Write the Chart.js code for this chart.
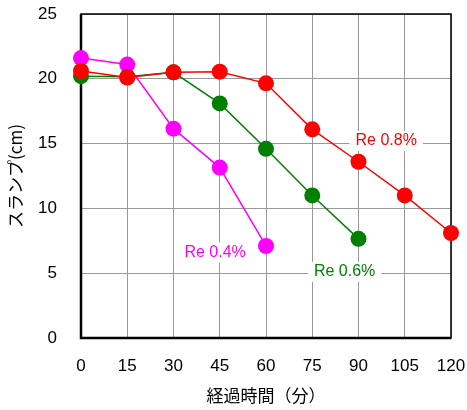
<!DOCTYPE html>
<html>
<head>
<meta charset="utf-8">
<script src="https://cdn.jsdelivr.net/npm/chart.js@4"></script>
<style>
  html, body { margin: 0; padding: 0; background: #fff; }
  #wrap { width: 467px; height: 410px; }
</style>
</head>
<body>
<div id="wrap"><canvas id="c" width="467" height="410"></canvas></div>
<script>
// 経過時間(分)
let minutes = [0, 15, 30, 45, 60, 75, 90, 105, 120];
// スランプ(cm)
let slump04 = [21.6, 21.1, 16.15, 13.15, 7.1];
let slump06 = [20.2, 20.15, 20.5, 18.1, 14.6, 11.0, 7.65];
let slump08 = [20.6, 20.1, 20.5, 20.55, 19.65, 16.1, 13.6, 11.0, 8.1];

let seriesNames = ["Re 0.4%", "Re 0.6%", "Re 0.8%"];
// label anchor (x in minutes, y in cm)
let labelX = [43.5, 85.5, 99];
let labelY = [6.6, 5.1, 15.2];

let colors = ["#ff00ff", "#008000", "#ff0000"];
let font = "'Liberation Sans', 'Noto Sans CJK JP', sans-serif";
let jpFont = "'Noto Sans CJK JP', sans-serif";

function pts(vals) {
  return vals.map((v, i) => ({ x: minutes[i], y: v }));
}

// 枠線
const framePlugin = {
  id: "frame",
  beforeDatasetsDraw(chart) {
    const a = chart.chartArea;
    const ctx = chart.ctx;
    ctx.save();
    ctx.strokeStyle = "#000";
    ctx.lineWidth = 1.5;
    ctx.strokeRect(a.left, a.top, a.right - a.left, a.bottom - a.top);
    ctx.lineWidth = 2.5;
    ctx.beginPath();
    ctx.moveTo(a.left, a.top);
    ctx.lineTo(a.left, a.bottom);
    ctx.lineTo(a.right, a.bottom);
    ctx.stroke();
    ctx.restore();
  }
};

// 系列名ラベル
const labelPlugin = {
  id: "seriesLabels",
  afterDatasetsDraw(chart) {
    const ctx = chart.ctx;
    const xs = chart.scales.x;
    const ys = chart.scales.y;
    ctx.save();
    ctx.font = "16px " + font;
    ctx.textAlign = "center";
    ctx.textBaseline = "middle";
    for (let i = 0; i < seriesNames.length; i++) {
      let px = xs.getPixelForValue(labelX[i]);
      let py = ys.getPixelForValue(labelY[i]);
      let w = ctx.measureText(seriesNames[i]).width + 12;
      ctx.fillStyle = "#fff";
      ctx.fillRect(px - w / 2, py - 10, w, 20);
      ctx.fillStyle = colors[i];
      ctx.fillText(seriesNames[i], px, py);
    }
    ctx.restore();
  }
};

let datasets = [slump08, slump06, slump04].map((vals, k) => {
  let ci = 2 - k;
  return {
    label: seriesNames[ci],
    data: pts(vals),
    borderColor: colors[ci],
    backgroundColor: colors[ci],
    borderWidth: 1.5,
    pointRadius: 8,
    pointHoverRadius: 8,
    pointBorderWidth: 0,
    clip: false,
    tension: 0
  };
});

new Chart(document.getElementById("c"), {
  type: "line",
  data: { datasets: datasets },
  plugins: [framePlugin, labelPlugin],
  options: {
    responsive: false,
    animation: false,
    layout: { padding: { top: 14, right: 16, left: 0, bottom: 0 } },
    plugins: { legend: { display: false }, tooltip: { enabled: false } },
    scales: {
      x: {
        type: "linear",
        min: 0,
        max: 120,
        afterFit(s) {
          s.height = 72;
          s.paddingLeft = 0;
          s.paddingRight = 0;
        },
        ticks: {
          stepSize: 15,
          padding: 18,
          color: "#000",
          font: { family: font, size: 17 }
        },
        grid: { color: "#999", lineWidth: 1, tickLength: 0, drawTicks: false },
        border: { display: false },
        title: {
          display: true,
          text: "経過時間（分）",
          color: "#000",
          font: { family: jpFont, size: 17 },
          padding: { top: 2 }
        }
      },
      y: {
        min: 0,
        max: 25,
        afterFit(s) {
          s.width = 81;
          s.paddingTop = 0;
          s.paddingBottom = 0;
        },
        ticks: {
          stepSize: 5,
          padding: 24,
          color: "#000",
          font: { family: font, size: 17 }
        },
        grid: { color: "#999", lineWidth: 1, tickLength: 0, drawTicks: false },
        border: { display: false },
        title: {
          display: true,
          text: "スランプ(cm)",
          color: "#000",
          font: { family: jpFont, size: 17 },
          padding: { bottom: 0, top: 5 }
        }
      }
    }
  }
});
</script>
</body>
</html>
